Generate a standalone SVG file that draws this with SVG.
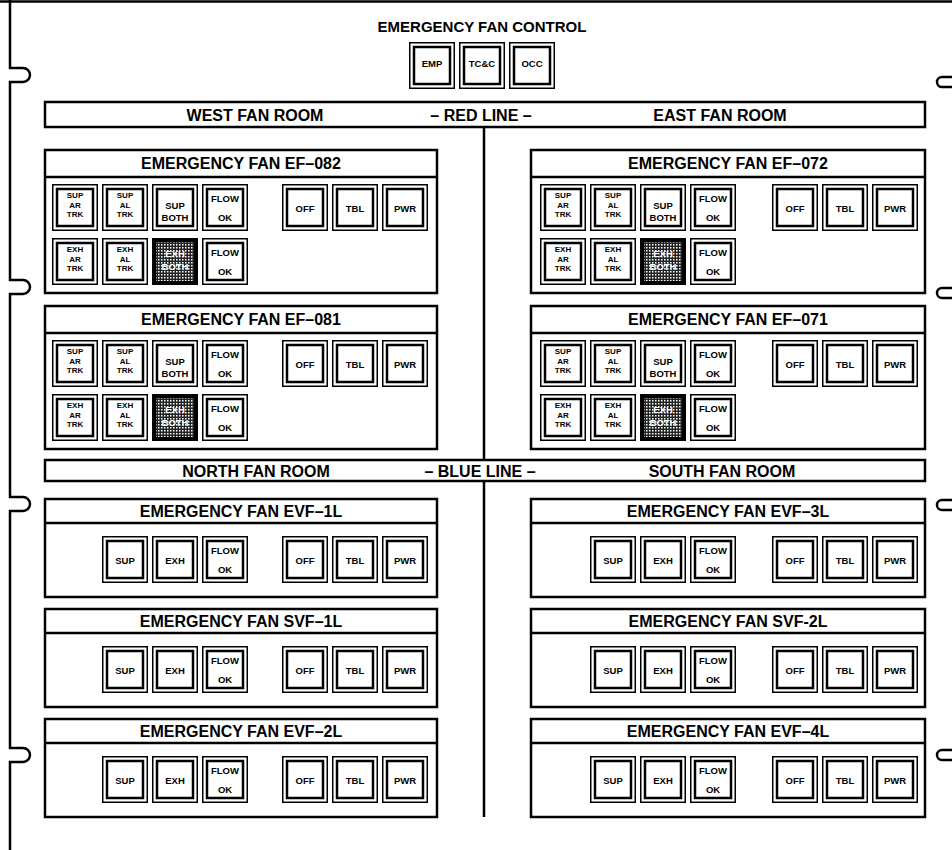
<svg xmlns="http://www.w3.org/2000/svg" xmlns:xlink="http://www.w3.org/1999/xlink" width="952" height="850" viewBox="0 0 952 850">
<style>
.t{font-family:"Liberation Sans",Arial,sans-serif;font-weight:bold;text-anchor:middle;fill:#000}
.h{font-size:16px}
.m{font-size:15px}
.b{font-size:9.5px}
.s{font-size:8px}
.w{fill:#fff}
.o{fill:#fff;stroke:#000;stroke-width:1.5}
.i{fill:#fff;stroke:#000;stroke-width:2.5}
.p{fill:#fff;stroke:#000;stroke-width:2.5}
.l{fill:none;stroke:#000;stroke-width:2.5}
</style>
<defs>
<pattern id="stip" width="3" height="3" patternUnits="userSpaceOnUse"><rect width="3" height="3" fill="#222"/><rect width="1.5" height="1.5" fill="#fff"/></pattern>
<g id="bf"><rect class="o" x="0.75" y="0.75" width="44.5" height="45.5"/><rect class="i" x="5" y="5" width="36" height="37"/></g>
<g id="bs"><rect x="0" y="0" width="46" height="47" fill="#000"/><rect x="4" y="4" width="38" height="39" fill="url(#stip)"/></g>
</defs>
<rect width="952" height="850" fill="#fff"/>

<g id="frame">
<path class="l" d="M0 1.5 H952"/>
<path class="l" d="M10 0 V68 H23 A7 7 0 0 1 23 82 H10 V280 H23 A7 7 0 0 1 23 294 H10 V497 H23 A7 7 0 0 1 23 511 H10 V748 H23 A7 7 0 0 1 23 762 H10 V850"/>
<path class="l" d="M952 77 H942 A5 5 0 0 0 942 87 H952 M952 288 H942 A5 5 0 0 0 942 298 H952 M952 500 H942 A5 5 0 0 0 942 510 H952 M952 750 H942 A5 5 0 0 0 942 760 H952"/>
</g>

<g id="connectors">
<line class="l" x1="484" y1="127" x2="484" y2="460"/>
<line class="l" x1="484" y1="481" x2="484" y2="817"/>
</g>

<g id="control">
<text class="t m" x="482" y="32">EMERGENCY FAN CONTROL</text>
<use xlink:href="#bf" x="409" y="42"/><text class="t b" x="432" y="67">EMP</text>
<use xlink:href="#bf" x="459" y="42"/><text class="t b" x="482" y="67">TC&amp;C</text>
<use xlink:href="#bf" x="509" y="42"/><text class="t b" x="532" y="67">OCC</text>
</g>

<g id="redline">
<rect class="p" x="45" y="102" width="880" height="25"/>
<text class="t h" x="255" y="121">WEST FAN ROOM</text>
<text class="t h" x="481" y="121">– RED LINE –</text>
<text class="t h" x="720" y="121">EAST FAN ROOM</text>
</g>

<g id="ef082">
<rect class="p" x="45" y="150" width="392" height="143"/>
<line class="l" x1="45" y1="177" x2="437" y2="177"/>
<text class="t h" x="241" y="169">EMERGENCY FAN EF–082</text>
<use xlink:href="#bf" x="52" y="184"/><text class="t s" x="75" y="198">SUP</text><text class="t s" x="75" y="207.5">AR</text><text class="t s" x="75" y="217">TRK</text>
<use xlink:href="#bf" x="102" y="184"/><text class="t s" x="125" y="198">SUP</text><text class="t s" x="125" y="207.5">AL</text><text class="t s" x="125" y="217">TRK</text>
<use xlink:href="#bf" x="152" y="184"/><text class="t b" x="175" y="209">SUP</text><text class="t b" x="175" y="221">BOTH</text>
<use xlink:href="#bf" x="202" y="184"/><text class="t b" x="225" y="201.5">FLOW</text><text class="t b" x="225" y="220.5">OK</text>
<use xlink:href="#bf" x="282" y="184"/><text class="t b" x="305" y="211.5">OFF</text>
<use xlink:href="#bf" x="332" y="184"/><text class="t b" x="355" y="211.5">TBL</text>
<use xlink:href="#bf" x="382" y="184"/><text class="t b" x="405" y="211.5">PWR</text>
<use xlink:href="#bf" x="52" y="238"/><text class="t s" x="75" y="252">EXH</text><text class="t s" x="75" y="261.5">AR</text><text class="t s" x="75" y="271">TRK</text>
<use xlink:href="#bf" x="102" y="238"/><text class="t s" x="125" y="252">EXH</text><text class="t s" x="125" y="261.5">AL</text><text class="t s" x="125" y="271">TRK</text>
<use xlink:href="#bs" x="152" y="238"/><text class="t b w" x="175" y="257">EXH</text><text class="t b w" x="175" y="270">BOTH</text>
<use xlink:href="#bf" x="202" y="238"/><text class="t b" x="225" y="255.5">FLOW</text><text class="t b" x="225" y="274.5">OK</text>
</g>

<g id="ef072">
<rect class="p" x="531" y="150" width="394" height="143"/>
<line class="l" x1="531" y1="177" x2="925" y2="177"/>
<text class="t h" x="728" y="169">EMERGENCY FAN EF–072</text>
<use xlink:href="#bf" x="540" y="184"/><text class="t s" x="563" y="198">SUP</text><text class="t s" x="563" y="207.5">AR</text><text class="t s" x="563" y="217">TRK</text>
<use xlink:href="#bf" x="590" y="184"/><text class="t s" x="613" y="198">SUP</text><text class="t s" x="613" y="207.5">AL</text><text class="t s" x="613" y="217">TRK</text>
<use xlink:href="#bf" x="640" y="184"/><text class="t b" x="663" y="209">SUP</text><text class="t b" x="663" y="221">BOTH</text>
<use xlink:href="#bf" x="690" y="184"/><text class="t b" x="713" y="201.5">FLOW</text><text class="t b" x="713" y="220.5">OK</text>
<use xlink:href="#bf" x="772" y="184"/><text class="t b" x="795" y="211.5">OFF</text>
<use xlink:href="#bf" x="822" y="184"/><text class="t b" x="845" y="211.5">TBL</text>
<use xlink:href="#bf" x="872" y="184"/><text class="t b" x="895" y="211.5">PWR</text>
<use xlink:href="#bf" x="540" y="238"/><text class="t s" x="563" y="252">EXH</text><text class="t s" x="563" y="261.5">AR</text><text class="t s" x="563" y="271">TRK</text>
<use xlink:href="#bf" x="590" y="238"/><text class="t s" x="613" y="252">EXH</text><text class="t s" x="613" y="261.5">AL</text><text class="t s" x="613" y="271">TRK</text>
<use xlink:href="#bs" x="640" y="238"/><text class="t b w" x="663" y="257">EXH</text><text class="t b w" x="663" y="270">BOTH</text>
<use xlink:href="#bf" x="690" y="238"/><text class="t b" x="713" y="255.5">FLOW</text><text class="t b" x="713" y="274.5">OK</text>
</g>

<g id="ef081">
<rect class="p" x="45" y="306" width="392" height="143"/>
<line class="l" x1="45" y1="333" x2="437" y2="333"/>
<text class="t h" x="241" y="325">EMERGENCY FAN EF–081</text>
<use xlink:href="#bf" x="52" y="340"/><text class="t s" x="75" y="354">SUP</text><text class="t s" x="75" y="363.5">AR</text><text class="t s" x="75" y="373">TRK</text>
<use xlink:href="#bf" x="102" y="340"/><text class="t s" x="125" y="354">SUP</text><text class="t s" x="125" y="363.5">AL</text><text class="t s" x="125" y="373">TRK</text>
<use xlink:href="#bf" x="152" y="340"/><text class="t b" x="175" y="365">SUP</text><text class="t b" x="175" y="377">BOTH</text>
<use xlink:href="#bf" x="202" y="340"/><text class="t b" x="225" y="357.5">FLOW</text><text class="t b" x="225" y="376.5">OK</text>
<use xlink:href="#bf" x="282" y="340"/><text class="t b" x="305" y="367.5">OFF</text>
<use xlink:href="#bf" x="332" y="340"/><text class="t b" x="355" y="367.5">TBL</text>
<use xlink:href="#bf" x="382" y="340"/><text class="t b" x="405" y="367.5">PWR</text>
<use xlink:href="#bf" x="52" y="394"/><text class="t s" x="75" y="408">EXH</text><text class="t s" x="75" y="417.5">AR</text><text class="t s" x="75" y="427">TRK</text>
<use xlink:href="#bf" x="102" y="394"/><text class="t s" x="125" y="408">EXH</text><text class="t s" x="125" y="417.5">AL</text><text class="t s" x="125" y="427">TRK</text>
<use xlink:href="#bs" x="152" y="394"/><text class="t b w" x="175" y="413">EXH</text><text class="t b w" x="175" y="426">BOTH</text>
<use xlink:href="#bf" x="202" y="394"/><text class="t b" x="225" y="411.5">FLOW</text><text class="t b" x="225" y="430.5">OK</text>
</g>

<g id="ef071">
<rect class="p" x="531" y="306" width="394" height="143"/>
<line class="l" x1="531" y1="333" x2="925" y2="333"/>
<text class="t h" x="728" y="325">EMERGENCY FAN EF–071</text>
<use xlink:href="#bf" x="540" y="340"/><text class="t s" x="563" y="354">SUP</text><text class="t s" x="563" y="363.5">AR</text><text class="t s" x="563" y="373">TRK</text>
<use xlink:href="#bf" x="590" y="340"/><text class="t s" x="613" y="354">SUP</text><text class="t s" x="613" y="363.5">AL</text><text class="t s" x="613" y="373">TRK</text>
<use xlink:href="#bf" x="640" y="340"/><text class="t b" x="663" y="365">SUP</text><text class="t b" x="663" y="377">BOTH</text>
<use xlink:href="#bf" x="690" y="340"/><text class="t b" x="713" y="357.5">FLOW</text><text class="t b" x="713" y="376.5">OK</text>
<use xlink:href="#bf" x="772" y="340"/><text class="t b" x="795" y="367.5">OFF</text>
<use xlink:href="#bf" x="822" y="340"/><text class="t b" x="845" y="367.5">TBL</text>
<use xlink:href="#bf" x="872" y="340"/><text class="t b" x="895" y="367.5">PWR</text>
<use xlink:href="#bf" x="540" y="394"/><text class="t s" x="563" y="408">EXH</text><text class="t s" x="563" y="417.5">AR</text><text class="t s" x="563" y="427">TRK</text>
<use xlink:href="#bf" x="590" y="394"/><text class="t s" x="613" y="408">EXH</text><text class="t s" x="613" y="417.5">AL</text><text class="t s" x="613" y="427">TRK</text>
<use xlink:href="#bs" x="640" y="394"/><text class="t b w" x="663" y="413">EXH</text><text class="t b w" x="663" y="426">BOTH</text>
<use xlink:href="#bf" x="690" y="394"/><text class="t b" x="713" y="411.5">FLOW</text><text class="t b" x="713" y="430.5">OK</text>
</g>

<g id="blueline">
<rect class="p" x="45" y="460" width="880" height="21"/>
<text class="t h" x="256" y="476.5">NORTH FAN ROOM</text>
<text class="t h" x="480" y="476.5">– BLUE LINE –</text>
<text class="t h" x="722" y="476.5">SOUTH FAN ROOM</text>
</g>

<g id="evf1l">
<rect class="p" x="45" y="499" width="392" height="98"/>
<line class="l" x1="45" y1="523" x2="437" y2="523"/>
<text class="t h" x="241" y="517">EMERGENCY FAN EVF–1L</text>
<use xlink:href="#bf" x="102" y="536"/><text class="t b" x="125" y="563.5">SUP</text>
<use xlink:href="#bf" x="152" y="536"/><text class="t b" x="175" y="563.5">EXH</text>
<use xlink:href="#bf" x="202" y="536"/><text class="t b" x="225" y="553.5">FLOW</text><text class="t b" x="225" y="572.5">OK</text>
<use xlink:href="#bf" x="282" y="536"/><text class="t b" x="305" y="563.5">OFF</text>
<use xlink:href="#bf" x="332" y="536"/><text class="t b" x="355" y="563.5">TBL</text>
<use xlink:href="#bf" x="382" y="536"/><text class="t b" x="405" y="563.5">PWR</text>
</g>

<g id="evf3l">
<rect class="p" x="531" y="499" width="394" height="98"/>
<line class="l" x1="531" y1="523" x2="925" y2="523"/>
<text class="t h" x="728" y="517">EMERGENCY FAN EVF–3L</text>
<use xlink:href="#bf" x="590" y="536"/><text class="t b" x="613" y="563.5">SUP</text>
<use xlink:href="#bf" x="640" y="536"/><text class="t b" x="663" y="563.5">EXH</text>
<use xlink:href="#bf" x="690" y="536"/><text class="t b" x="713" y="553.5">FLOW</text><text class="t b" x="713" y="572.5">OK</text>
<use xlink:href="#bf" x="772" y="536"/><text class="t b" x="795" y="563.5">OFF</text>
<use xlink:href="#bf" x="822" y="536"/><text class="t b" x="845" y="563.5">TBL</text>
<use xlink:href="#bf" x="872" y="536"/><text class="t b" x="895" y="563.5">PWR</text>
</g>

<g id="svf1l">
<rect class="p" x="45" y="609" width="392" height="98"/>
<line class="l" x1="45" y1="633" x2="437" y2="633"/>
<text class="t h" x="241" y="627">EMERGENCY FAN SVF–1L</text>
<use xlink:href="#bf" x="102" y="646"/><text class="t b" x="125" y="673.5">SUP</text>
<use xlink:href="#bf" x="152" y="646"/><text class="t b" x="175" y="673.5">EXH</text>
<use xlink:href="#bf" x="202" y="646"/><text class="t b" x="225" y="663.5">FLOW</text><text class="t b" x="225" y="682.5">OK</text>
<use xlink:href="#bf" x="282" y="646"/><text class="t b" x="305" y="673.5">OFF</text>
<use xlink:href="#bf" x="332" y="646"/><text class="t b" x="355" y="673.5">TBL</text>
<use xlink:href="#bf" x="382" y="646"/><text class="t b" x="405" y="673.5">PWR</text>
</g>

<g id="svf2l">
<rect class="p" x="531" y="609" width="394" height="98"/>
<line class="l" x1="531" y1="633" x2="925" y2="633"/>
<text class="t h" x="728" y="627">EMERGENCY FAN SVF-2L</text>
<use xlink:href="#bf" x="590" y="646"/><text class="t b" x="613" y="673.5">SUP</text>
<use xlink:href="#bf" x="640" y="646"/><text class="t b" x="663" y="673.5">EXH</text>
<use xlink:href="#bf" x="690" y="646"/><text class="t b" x="713" y="663.5">FLOW</text><text class="t b" x="713" y="682.5">OK</text>
<use xlink:href="#bf" x="772" y="646"/><text class="t b" x="795" y="673.5">OFF</text>
<use xlink:href="#bf" x="822" y="646"/><text class="t b" x="845" y="673.5">TBL</text>
<use xlink:href="#bf" x="872" y="646"/><text class="t b" x="895" y="673.5">PWR</text>
</g>

<g id="evf2l">
<rect class="p" x="45" y="719" width="392" height="98"/>
<line class="l" x1="45" y1="743" x2="437" y2="743"/>
<text class="t h" x="241" y="737">EMERGENCY FAN EVF–2L</text>
<use xlink:href="#bf" x="102" y="756"/><text class="t b" x="125" y="783.5">SUP</text>
<use xlink:href="#bf" x="152" y="756"/><text class="t b" x="175" y="783.5">EXH</text>
<use xlink:href="#bf" x="202" y="756"/><text class="t b" x="225" y="773.5">FLOW</text><text class="t b" x="225" y="792.5">OK</text>
<use xlink:href="#bf" x="282" y="756"/><text class="t b" x="305" y="783.5">OFF</text>
<use xlink:href="#bf" x="332" y="756"/><text class="t b" x="355" y="783.5">TBL</text>
<use xlink:href="#bf" x="382" y="756"/><text class="t b" x="405" y="783.5">PWR</text>
</g>

<g id="evf4l">
<rect class="p" x="531" y="719" width="394" height="98"/>
<line class="l" x1="531" y1="743" x2="925" y2="743"/>
<text class="t h" x="728" y="737">EMERGENCY FAN EVF–4L</text>
<use xlink:href="#bf" x="590" y="756"/><text class="t b" x="613" y="783.5">SUP</text>
<use xlink:href="#bf" x="640" y="756"/><text class="t b" x="663" y="783.5">EXH</text>
<use xlink:href="#bf" x="690" y="756"/><text class="t b" x="713" y="773.5">FLOW</text><text class="t b" x="713" y="792.5">OK</text>
<use xlink:href="#bf" x="772" y="756"/><text class="t b" x="795" y="783.5">OFF</text>
<use xlink:href="#bf" x="822" y="756"/><text class="t b" x="845" y="783.5">TBL</text>
<use xlink:href="#bf" x="872" y="756"/><text class="t b" x="895" y="783.5">PWR</text>
</g>
</svg>
